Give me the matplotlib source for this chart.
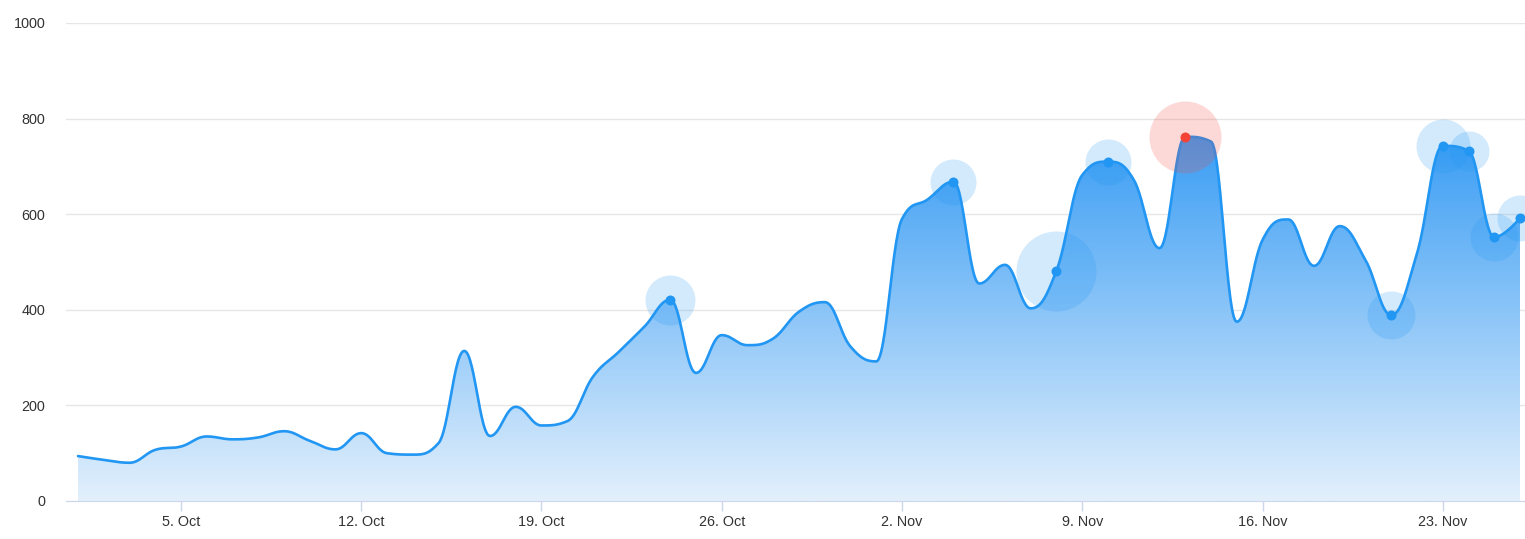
import numpy as np
import pandas as pd
import matplotlib
matplotlib.use('Agg')
import matplotlib.pyplot as plt
from matplotlib.colors import LinearSegmentedColormap

plt.rcParams['font.family'] = ['Liberation Sans', 'DejaVu Sans']

# daily values, 1 Oct .. 26 Nov
dates = pd.date_range('2023-10-01', periods=57, freq='D')
values = [94, 86, 80, 107, 114, 135, 129, 133, 146, 126,
          108, 142, 100, 97, 121, 314, 136, 197, 158, 167,
          260, 312, 365, 421, 268, 347, 326, 340, 396, 416,
          323, 292, 590, 631, 668, 455, 494, 403, 482, 682,
          710, 672, 529, 762, 752, 375, 546, 589, 492, 575,
          504, 389, 518, 743, 733, 552, 592]

# highlighted points (index into dates) and their bubble size
marked_idx = [23, 34, 38, 40, 43, 51, 53, 54, 55, 56]
marked_z = [25, 23, 40, 23, 36, 24, 27, 20, 24, 23]
peak_idx = 43

tick_days = [4, 11, 18, 25, 32, 39, 46, 53]
tick_labels = ['%d. %s' % (dates[i].day, dates[i].strftime('%b')) for i in tick_days]

BLUE = '#2196f3'
RED = '#f44336'


def spline(x, y, smoothing=1.5, n=30):
    # highcharts-like spline: bezier segments with control points
    x = np.asarray(x, float)
    y = np.asarray(y, float)
    m = len(x)
    lx, ly = x.copy(), y.copy()
    rx, ry = x.copy(), y.copy()
    d = smoothing + 1
    for i in range(1, m - 1):
        lcx = (smoothing * x[i] + x[i - 1]) / d
        lcy = (smoothing * y[i] + y[i - 1]) / d
        rcx = (smoothing * x[i] + x[i + 1]) / d
        rcy = (smoothing * y[i] + y[i + 1]) / d
        corr = (rcy - lcy) * (rcx - x[i]) / (rcx - lcx) + y[i] - rcy
        lcy += corr
        rcy += corr
        if lcy > y[i - 1] and lcy > y[i]:
            lcy = max(y[i - 1], y[i])
            rcy = 2 * y[i] - lcy
        elif lcy < y[i - 1] and lcy < y[i]:
            lcy = min(y[i - 1], y[i])
            rcy = 2 * y[i] - lcy
        if rcy > y[i + 1] and rcy > y[i]:
            rcy = max(y[i + 1], y[i])
            lcy = 2 * y[i] - rcy
        elif rcy < y[i + 1] and rcy < y[i]:
            rcy = min(y[i + 1], y[i])
            lcy = 2 * y[i] - rcy
        lx[i], ly[i], rx[i], ry[i] = lcx, lcy, rcx, rcy
    t = np.linspace(0, 1, n)[:, None]
    pts = [np.array([[x[0], y[0]]])]
    for i in range(1, m):
        p0 = np.array([x[i - 1], y[i - 1]])
        p1 = np.array([rx[i - 1], ry[i - 1]])
        p2 = np.array([lx[i], ly[i]])
        p3 = np.array([x[i], y[i]])
        seg = ((1 - t) ** 3) * p0 + 3 * ((1 - t) ** 2) * t * p1 + 3 * (1 - t) * t ** 2 * p2 + t ** 3 * p3
        pts.append(seg[1:])
    pts = np.vstack(pts)
    return pts[:, 0], pts[:, 1]


days = np.arange(len(values))
sx, sy = spline(days, values)

fig = plt.figure(figsize=(15.25, 5.39), dpi=100)
ax = fig.add_axes([66 / 1525, 38 / 539, 1 - 66 / 1525, 478 / 539])

# gradient area
poly = ax.fill_between(sx, sy, 0, facecolor='none', edgecolor='none')
cmap = LinearSegmentedColormap.from_list('g', ['#e3f0fc', '#3a9df4'])
grad = np.linspace(0, 1, 256)[:, None]
im = ax.imshow(grad, cmap=cmap, aspect='auto', origin='lower',
               extent=[sx.min(), sx.max(), 0, max(values)], zorder=1)
im.set_clip_path(poly.get_paths()[0], transform=ax.transData)

ax.plot(sx, sy, color=BLUE, lw=1.9, zorder=3, solid_capstyle='round')

# bubbles and dots
for i, z in zip(marked_idx, marked_z):
    c = RED if i == peak_idx else BLUE
    s = (2 * z * 0.72) ** 2
    ax.scatter([days[i]], [values[i]], s=s, color=c, alpha=0.2, lw=0, zorder=4, clip_on=False)
    ax.plot([days[i]], [values[i]], 'o', ms=7.2, color=c, mec='none', zorder=5, clip_on=False)

ax.set_xlim(-12 / 25.76, 56 + 5 / 25.76)
ax.set_ylim(0, 1000)
ax.set_yticks([0, 200, 400, 600, 800, 1000])
ax.set_xticks(tick_days)
ax.set_xticklabels(tick_labels)
ax.grid(axis='y', color='#e6e6e6', lw=1)
ax.set_axisbelow(True)
for side in ['top', 'right', 'left']:
    ax.spines[side].set_visible(False)
ax.spines['bottom'].set_color('#ccd6eb')
ax.spines['bottom'].set_zorder(6)
ax.tick_params(axis='y', length=0, pad=15, labelsize=10.4, labelcolor='#333333')
ax.tick_params(axis='x', length=7.5, width=1, color='#ccd6eb', pad=2.5, labelsize=10.4, labelcolor='#333333')

plt.savefig('out.png', dpi=100)
